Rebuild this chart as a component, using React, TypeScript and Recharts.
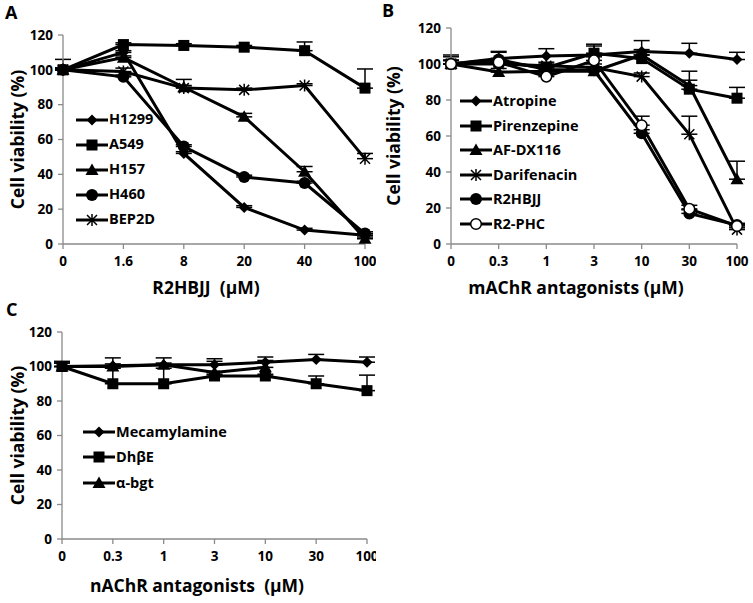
import { LineChart, Line, XAxis, YAxis, ErrorBar, Legend } from 'recharts';

const FONT = '"Open Sans", "Liberation Sans", sans-serif';
const GRAY = '#8a8a8a';

// ---- panel A: R2HBJJ dose on lung cell lines
const aDoses = ['0', '1.6', '8', '20', '40', '100'];
const aH1299 = [100, 110, 52, 21, 8, 5];
const aH1299Err = [1, 1, 1, 1, 1, 0];
const aA549 = [100, 114.5, 114, 113, 111, 89.5];
const aA549Err = [6, 1, 1, 1, 5, 11];
const aH157 = [100, 107, 90, 73, 41.5, 3];
const aH157Err = [1, 1, 1, 2, 3, 1];
const aH460 = [100, 96, 56, 38.5, 35, 6];
const aH460Err = [1, 1, 1, 1, 1, 1];
const aBEP2D = [100, 99, 89.5, 88.5, 91, 49];
const aBEP2DErr = [1, 2, 5, 1, 1, 3];

// ---- panel B: mAChR antagonists
const bDoses = ['0', '0.3', '1', '3', '10', '30', '100'];
const bAtropine = [100, 103, 104.5, 105, 107, 106, 102.5];
const bAtropineErr = [4, 4, 4, 5, 6, 5.5, 4];
const bPirenzepine = [100, 101, 98, 106, 103, 86, 81];
const bPirenzepineErr = [5, 2, 2, 5, 2, 10, 6];
const bAFDX116 = [100, 95.5, 96, 96, 105, 88, 36];
const bAFDX116Err = [2, 2, 2, 2, 3, 3, 10];
const bDarifenacin = [100, 100, 99, 98, 93, 61, 8];
const bDarifenacinErr = [2, 2, 2, 2, 2, 10, 1];
const bR2HBJJ = [100, 102.5, 97, 96.5, 61.5, 17, 10.5];
const bR2HBJJErr = [2, 4, 2, 2, 2, 2, 1];
const bR2PHC = [100, 101, 93, 102, 66, 19.5, 10];
const bR2PHCErr = [2, 2, 2, 2, 5, 2, 1];

// ---- panel C: nAChR antagonists
const cDoses = ['0', '0.3', '1', '3', '10', '30', '100'];
const cMecamylamine = [100, 100.5, 101, 101, 102.5, 104, 102.5];
const cMecamylamineErr = [3, 1, 1, 2, 3, 3, 3];
const cDhbE = [100, 90, 90, 94.5, 94.5, 90, 86];
const cDhbEErr = [2, 9, 9, 1, 1, 4.5, 9];
const cBgt = [100, 100, 101, 96.5, 99.5, null, null];
const cBgtErr = [2, 5, 4, 8, 4, null, null];

const yTicks = [0, 20, 40, 60, 80, 100, 120];

type Shape = 'diamond' | 'square' | 'triangle' | 'circle' | 'open' | 'star';
type Series = { key: string; name: string; shape: Shape; values: (number | null)[]; err: (number | null)[] };

const seriesA: Series[] = [
  { key: 'h1299', name: 'H1299', shape: 'diamond', values: aH1299, err: aH1299Err },
  { key: 'a549', name: 'A549', shape: 'square', values: aA549, err: aA549Err },
  { key: 'h157', name: 'H157', shape: 'triangle', values: aH157, err: aH157Err },
  { key: 'h460', name: 'H460', shape: 'circle', values: aH460, err: aH460Err },
  { key: 'bep2d', name: 'BEP2D', shape: 'star', values: aBEP2D, err: aBEP2DErr },
];

const seriesB: Series[] = [
  { key: 'atropine', name: 'Atropine', shape: 'diamond', values: bAtropine, err: bAtropineErr },
  { key: 'pirenzepine', name: 'Pirenzepine', shape: 'square', values: bPirenzepine, err: bPirenzepineErr },
  { key: 'afdx', name: 'AF-DX116', shape: 'triangle', values: bAFDX116, err: bAFDX116Err },
  { key: 'darifenacin', name: 'Darifenacin', shape: 'star', values: bDarifenacin, err: bDarifenacinErr },
  { key: 'r2hbjj', name: 'R2HBJJ', shape: 'circle', values: bR2HBJJ, err: bR2HBJJErr },
  { key: 'r2phc', name: 'R2-PHC', shape: 'open', values: bR2PHC, err: bR2PHCErr },
];

const seriesC: Series[] = [
  { key: 'mec', name: 'Mecamylamine', shape: 'diamond', values: cMecamylamine, err: cMecamylamineErr },
  { key: 'dhbe', name: 'DhβE', shape: 'square', values: cDhbE, err: cDhbEErr },
  { key: 'bgt', name: 'α-bgt', shape: 'triangle', values: cBgt, err: cBgtErr },
];

function buildRows(doses: string[], series: Series[]) {
  return doses.map((dose, i) => {
    const row: Record<string, unknown> = { dose };
    series.forEach((s) => {
      row[s.key] = s.values[i];
      row[s.key + 'Err'] = s.err[i] == null ? null : [0, s.err[i]];
    });
    return row;
  });
}

function Marker({ shape, cx, cy }: { shape: Shape; cx: number; cy: number }) {
  switch (shape) {
    case 'diamond':
      return <polygon points={`${cx},${cy - 5.5} ${cx + 5.5},${cy} ${cx},${cy + 5.5} ${cx - 5.5},${cy}`} fill="#000" />;
    case 'square':
      return <rect x={cx - 5.5} y={cy - 5.5} width={11} height={11} fill="#000" />;
    case 'triangle':
      return <polygon points={`${cx},${cy - 6.5} ${cx + 6.5},${cy + 5} ${cx - 6.5},${cy + 5}`} fill="#000" />;
    case 'circle':
      return <circle cx={cx} cy={cy} r={6} fill="#000" />;
    case 'open':
      return <circle cx={cx} cy={cy} r={5.3} fill="#fff" stroke="#000" strokeWidth={1.5} />;
    case 'star':
      return (
        <path
          d={`M${cx - 5},${cy - 5}L${cx + 5},${cy + 5}M${cx + 5},${cy - 5}L${cx - 5},${cy + 5}M${cx},${cy - 6}L${cx},${cy + 6}`}
          stroke="#000"
          strokeWidth={1.5}
        />
      );
  }
}

const dotFor = (shape: Shape) => (p: any) => {
  if (p.cy == null || p.value == null) return <g key={p.index} />;
  return (
    <g key={p.index}>
      <Marker shape={shape} cx={p.cx} cy={p.cy} />
    </g>
  );
};

function LegendBox({ series, rowH }: { series: Series[]; rowH: number }) {
  return (
    <div style={{ fontFamily: FONT, fontWeight: 700, fontSize: 14.5, color: '#000' }}>
      {series.map((s) => (
        <div key={s.key} style={{ display: 'flex', alignItems: 'center', height: rowH }}>
          <svg width={32} height={16} style={{ display: 'block' }}>
            <line x1={0} y1={8} x2={32} y2={8} stroke="#000" strokeWidth={3} />
            <Marker shape={s.shape} cx={16} cy={8} />
          </svg>
          <span style={{ marginLeft: 1, lineHeight: 1 }}>{s.name}</span>
        </div>
      ))}
    </div>
  );
}

type PanelProps = {
  letter: string;
  doses: string[];
  series: Series[];
  width: number;
  height: number;
  margin: { top: number; right: number; bottom: number; left: number };
  xTitle: string;
  xTitlePos: [number, number];
  legendPos: [number, number];
  legendRowH: number;
  letterPos: [number, number];
};

function Panel(p: PanelProps) {
  const data = buildRows(p.doses, p.series);
  const plotTop = p.margin.top;
  const plotBottom = p.height - p.margin.bottom - 30;
  const yMid = (plotTop + plotBottom) / 2;
  return (
    <div style={{ position: 'relative', width: p.width, height: p.height }}>
      <LineChart width={p.width} height={p.height} data={data} margin={p.margin} style={{ fontFamily: FONT }}>
        <XAxis
          dataKey="dose"
          height={30}
          interval={0}
          tickSize={5}
          tickMargin={7}
          stroke={GRAY}
          axisLine={{ stroke: GRAY, strokeWidth: 1.3 }}
          tickLine={{ stroke: GRAY, strokeWidth: 1.3 }}
          tick={{ fill: '#000', fontSize: 13.5, fontWeight: 700 }}
          label={{
            content: () => (
              <text
                x={p.xTitlePos[0]}
                y={p.xTitlePos[1]}
                textAnchor="middle"
                dominantBaseline="central"
                fontSize={17.5}
                fontWeight={700}
                fill="#000"
                style={{ whiteSpace: 'pre' }}
              >
                {p.xTitle}
              </text>
            ),
          }}
        />
        <YAxis
          type="number"
          domain={[0, 120]}
          ticks={yTicks}
          width={40}
          tickSize={5}
          tickMargin={5}
          axisLine={{ stroke: GRAY, strokeWidth: 1.3 }}
          tickLine={{ stroke: GRAY, strokeWidth: 1.3 }}
          tick={{ fill: '#000', fontSize: 13.5, fontWeight: 700 }}
          label={{
            content: () => (
              <text
                x={17}
                y={yMid}
                transform={`rotate(-90 17 ${yMid})`}
                textAnchor="middle"
                dominantBaseline="central"
                fontSize={17.5}
                fontWeight={700}
                fill="#000"
              >
                Cell viability (%)
              </text>
            ),
          }}
        />
        <Legend
          layout="vertical"
          align="center"
          verticalAlign="middle"
          wrapperStyle={{ left: p.legendPos[0], top: p.legendPos[1], width: 'auto', height: 'auto' }}
          content={() => <LegendBox series={p.series} rowH={p.legendRowH} />}
        />
        {p.series.map((s) => (
          <Line
            key={s.key}
            dataKey={s.key}
            name={s.name}
            type="linear"
            stroke="#000"
            strokeWidth={3}
            dot={dotFor(s.shape)}
            activeDot={false}
            isAnimationActive={false}
          >
            <ErrorBar dataKey={s.key + 'Err'} direction="y" width={8} stroke="#000" strokeWidth={1.5} />
          </Line>
        ))}
      </LineChart>
      <span
        style={{
          position: 'absolute',
          left: p.letterPos[0],
          top: p.letterPos[1],
          fontFamily: FONT,
          fontWeight: 700,
          fontSize: 18,
          lineHeight: 1,
        }}
      >
        {p.letter}
      </span>
    </div>
  );
}

export default function App() {
  return (
    <div style={{ position: 'absolute', left: 0, top: 0, width: 753, height: 603, background: '#fff' }}>
      <div style={{ position: 'absolute', left: 0, top: 0 }}>
        <Panel
          letter="A"
          doses={aDoses}
          series={seriesA}
          width={376}
          height={300}
          margin={{ top: 35, right: 11, bottom: 26, left: 23 }}
          xTitle="R2HBJJ  (µM)"
          xTitlePos={[206, 287]}
          legendPos={[76, 107]}
          legendRowH={25}
          letterPos={[5, 3]}
        />
      </div>
      <div style={{ position: 'absolute', left: 376, top: 0 }}>
        <Panel
          letter="B"
          doses={bDoses}
          series={seriesB}
          width={377}
          height={300}
          margin={{ top: 28, right: 16, bottom: 26, left: 35 }}
          xTitle="mAChR antagonists (µM)"
          xTitlePos={[200, 287]}
          legendPos={[84, 89]}
          legendRowH={24.5}
          letterPos={[6, 1]}
        />
      </div>
      <div style={{ position: 'absolute', left: 0, top: 300 }}>
        <Panel
          letter="C"
          doses={cDoses}
          series={seriesC}
          width={376}
          height={303}
          margin={{ top: 32, right: 9, bottom: 34, left: 22 }}
          xTitle="nAChR antagonists  (µM)"
          xTitlePos={[197, 285]}
          legendPos={[83, 119]}
          legendRowH={25.5}
          letterPos={[6, 0]}
        />
      </div>
    </div>
  );
}
